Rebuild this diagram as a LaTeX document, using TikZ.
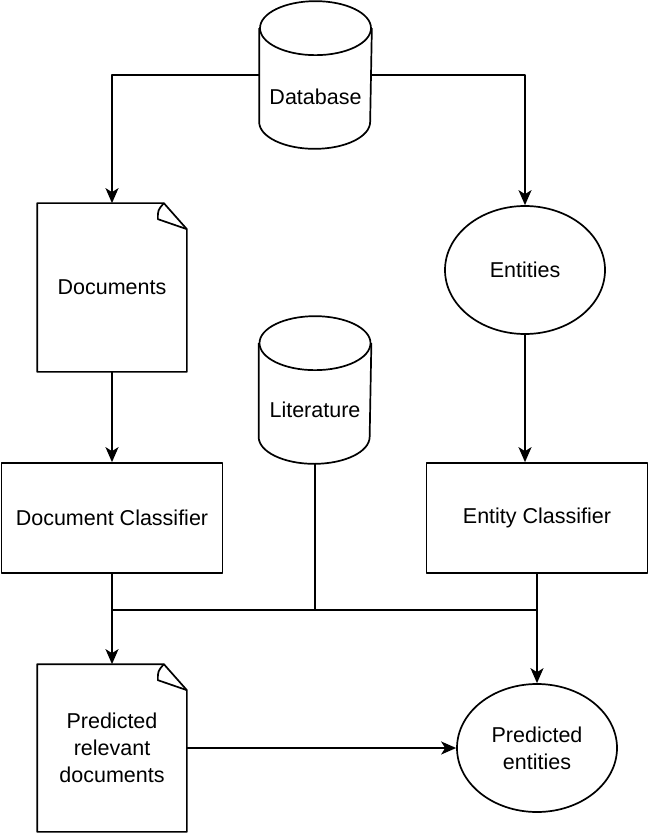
\documentclass[tikz,border=0pt]{standalone}
\usepackage{fontspec}
\setmainfont{Liberation Sans}
\usetikzlibrary{calc,arrows.meta,shapes.geometric}

% outline of a database can around node #1
\newcommand{\canout}[1]{%
  \draw ($(#1.north west)+(0,-27)$) -- ($(#1.south west)+(0,27)$)
    arc[start angle=180,end angle=360,x radius=55.5pt,y radius=27pt]
    -- ($(#1.north east)+(0,-27)$);
  \draw ($(#1.north)+(0,-27)$) ellipse[x radius=55.5pt,y radius=27pt];
}
% outline of a page with a folded corner around node #1
\newcommand{\pageout}[1]{%
  \draw (#1.south west) -- (#1.north west) -- ($(#1.north east)+(-23,0)$)
    -- ($(#1.north east)+(0,-26)$) -- (#1.south east) -- cycle;
  \draw ($(#1.north east)+(-23,0)$) .. controls ($(#1.north east)+(-29,-7)$) .. ($(#1.north east)+(-29,-16)$)
    -- ($(#1.north east)+(0,-26)$);
}

\begin{document}
\begin{tikzpicture}[x=1pt,y=1pt,line width=1.7pt,line join=round,
  font=\fontsize{21.5}{27}\selectfont,
  >={Stealth[length=15pt,width=13pt,inset=4pt]},
  box/.style={draw,rectangle,minimum width=221pt,minimum height=110pt},
  oval/.style={draw,ellipse,minimum width=160pt,minimum height=128pt,inner sep=0pt,align=center},
  page/.style={minimum width=148pt,inner sep=0pt,align=center},
  can/.style={minimum width=111pt,minimum height=146pt,inner sep=0pt}]
  \useasboundingbox (0,0) rectangle (650,-834);

  \node[can,label={[yshift=-22pt]center:Database}] (db) at (315.5,-75) {};
  \node[can,label={[yshift=-20pt]center:Literature}] (lit) at (315,-390) {};
  \node[page,minimum height=167pt] (docs) at (112,-287.5) {Documents};
  \node[oval] (ent) at (525,-270) {Entities};
  \node[box] (dcls) at (112,-518) {Document Classifier};
  \node[box] (ecls) at (537,-518) {Entity Classifier};
  \node[page,minimum height=166pt] (pdocs) at (112,-748) {Predicted\\relevant\\documents};
  \node[oval] (pent) at (537,-748) {Predicted\\entities};

  \canout{db}
  \canout{lit}
  \pageout{docs}
  \pageout{pdocs}

  \coordinate (busL) at (112,-610);
  \coordinate (busR) at (537,-610);

  \draw[->] (db.west) -| (docs.north);
  \draw[->] (db.east) -| (ent.north);
  \draw[->] (docs.south) -- (dcls.north);
  \draw[->] (ent.south) -- (ent.south |- ecls.north);
  \draw[->] (dcls.south) -- (pdocs.north);
  \draw (busL) -- (busR);
  \draw (lit.south) -- (lit.south |- busL);
  \draw[->] (ecls.south) -- (pent.north);
  \draw[->] (pdocs.east) -- (pent.west);
\end{tikzpicture}
\end{document}
